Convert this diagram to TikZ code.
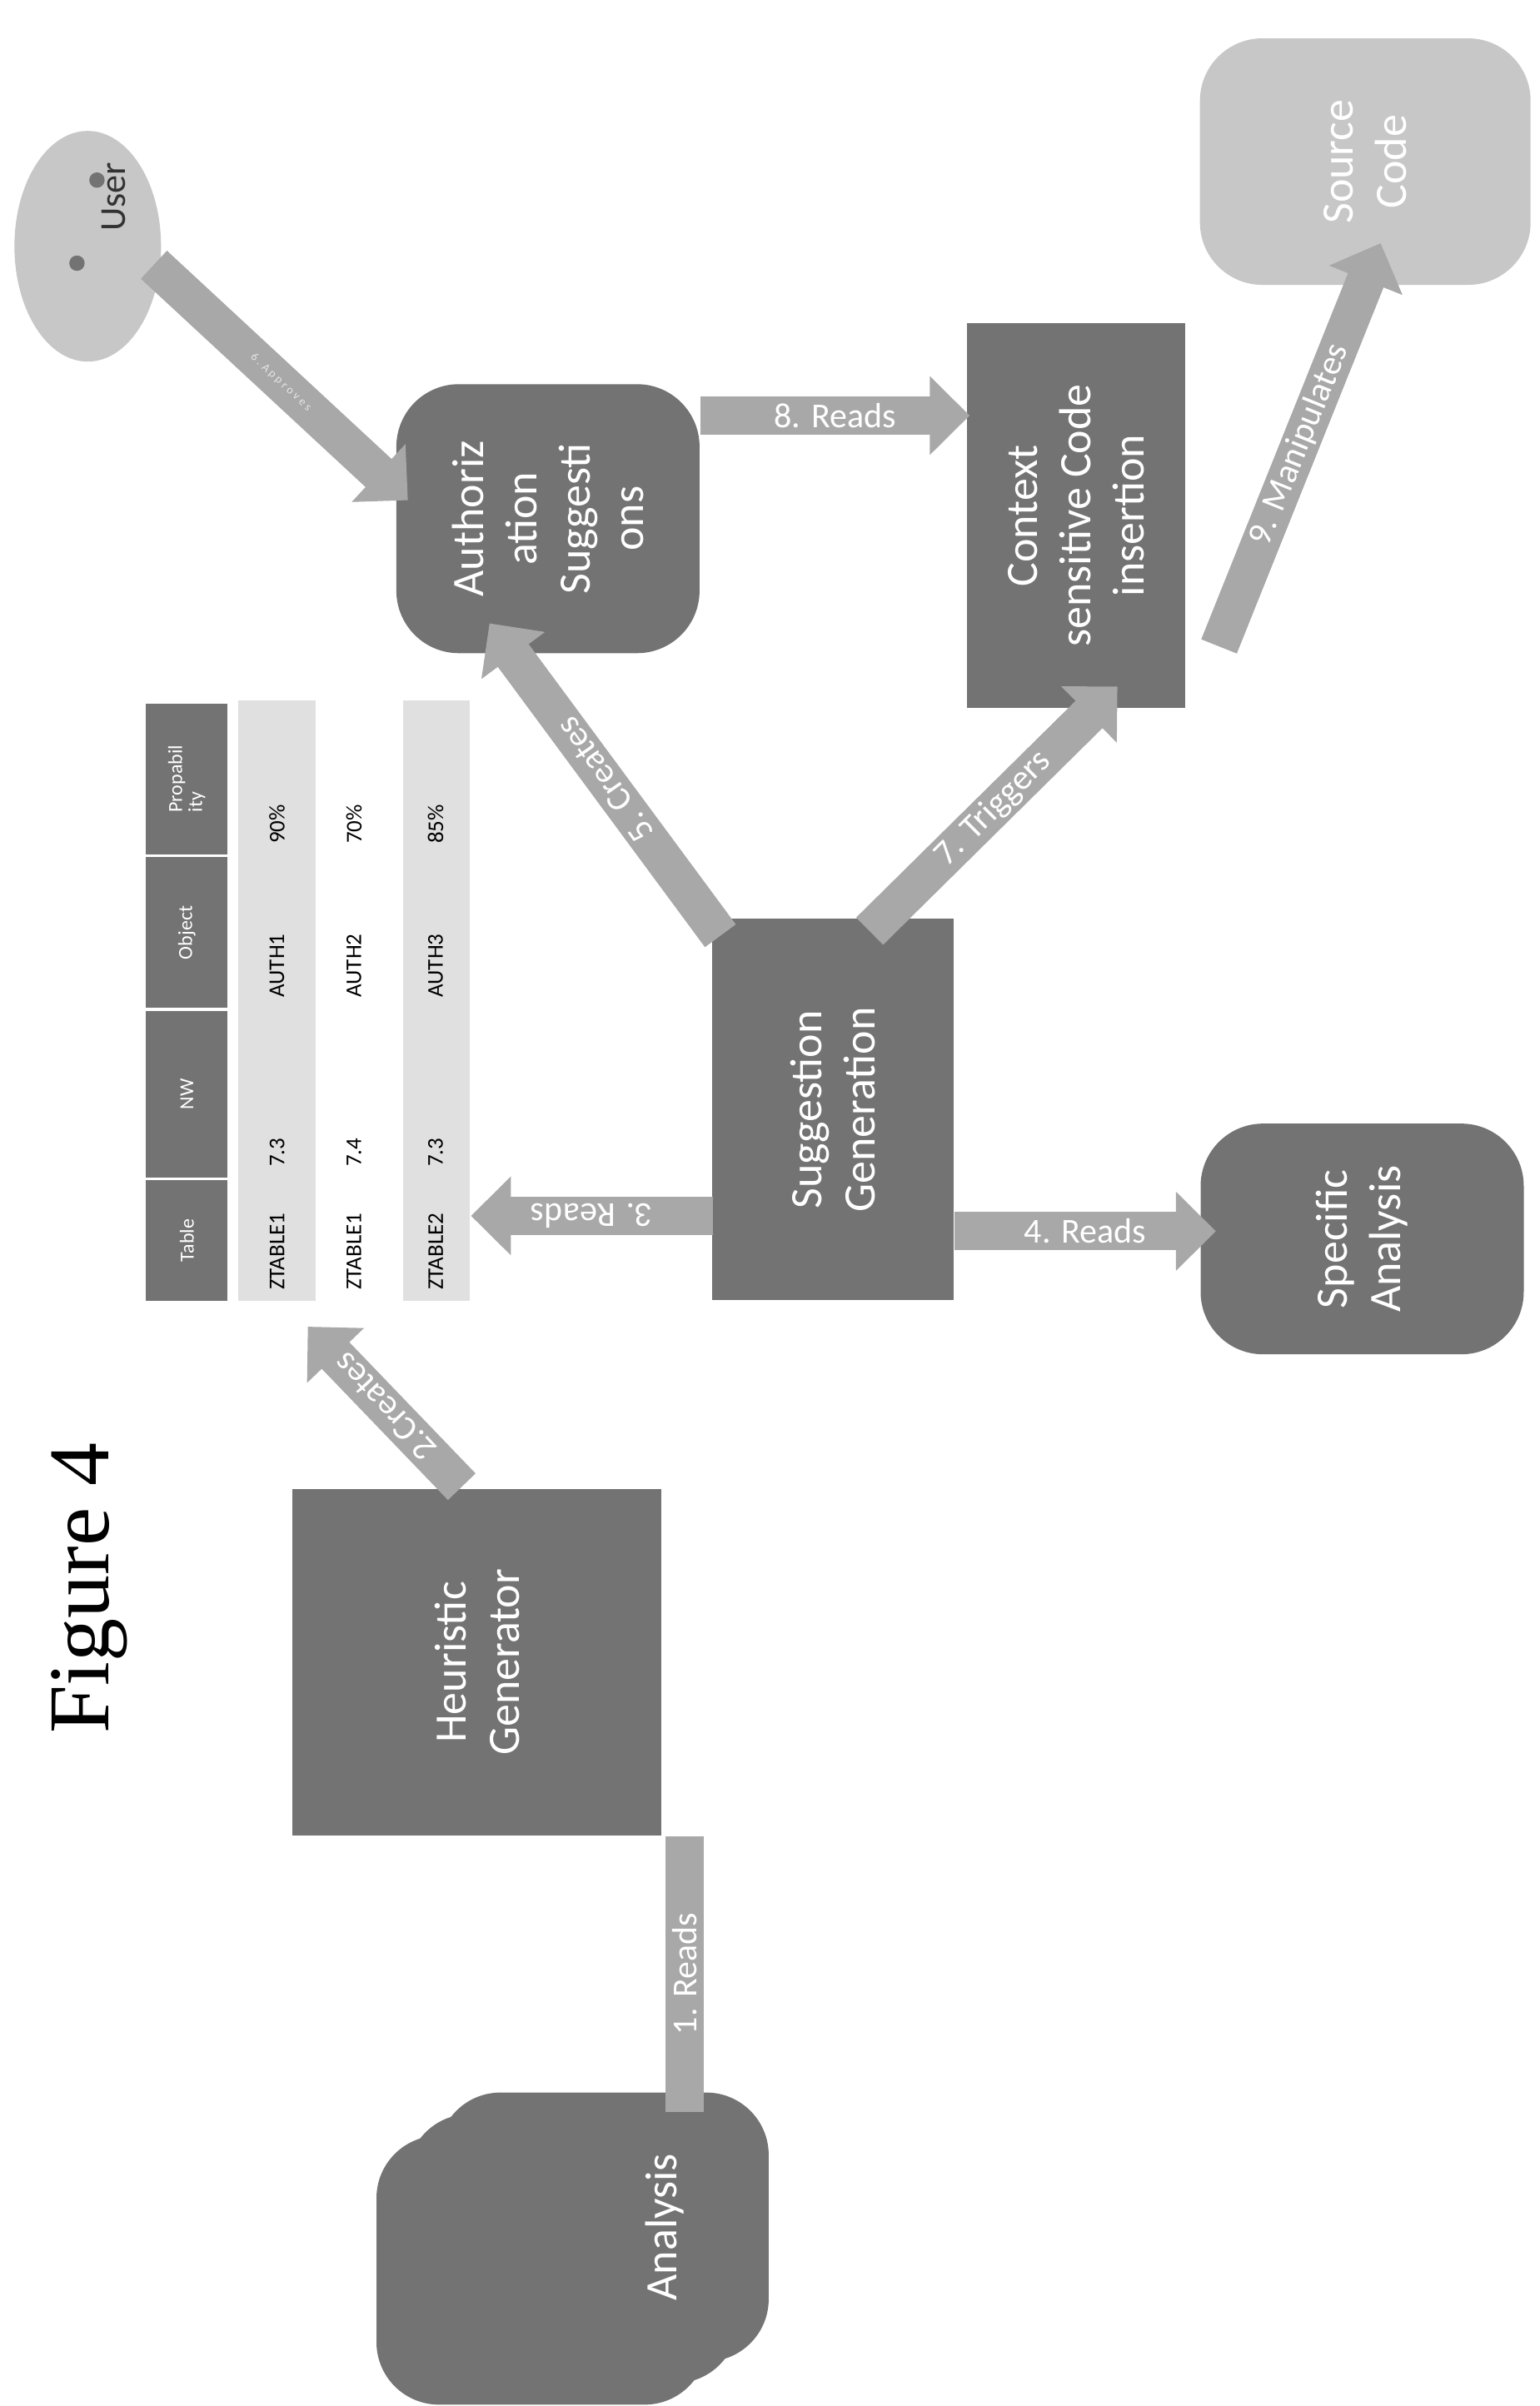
\documentclass[tikz,border=0pt]{standalone}
\usepackage{fontspec}
\setmainfont{Carlito}
\newfontfamily\figfont{Liberation Serif}
\usetikzlibrary{shapes.geometric,arrows.meta}
\definecolor{dk}{gray}{0.45}
\definecolor{lt}{gray}{0.78}
\definecolor{ar}{gray}{0.66}
\definecolor{cell}{gray}{0.88}
\begin{document}
\begin{tikzpicture}[x=1.848pt,y=-1.848pt,
  box/.style={rectangle,fill=dk,text=white,rotate=90,align=center,font=\fontsize{54}{64}\selectfont},
  cyl/.style={rectangle,rounded corners=75pt,fill=dk,text=white,rotate=90,align=center,font=\fontsize{54}{64}\selectfont},
  blk/.style={ar,line width=46pt,-{Triangle[width=92pt,length=48pt]}},
  lab/.style={text=white,font=\fontsize{42}{42}\selectfont},
  hc/.style={rectangle,fill=dk,text=white,anchor=south,rotate=90,font=\fontsize{24}{24}\selectfont,align=left},
  tc/.style={text=black,anchor=west,rotate=90,font=\fontsize{27}{27}\selectfont}]
\useasboundingbox (0,0) rectangle (1000,1563.3);
\node[rotate=90,font=\figfont\fontsize{104}{104}\selectfont] (fig) at (58,1032) {Figure 4};
% user
\node[ellipse,fill=lt,minimum width=176pt,minimum height=277pt] (user) at (57,160) {};
\node[rotate=90,font=\fontsize{44}{44}\selectfont,text=black!80] (usert) at (74,128) {User};
\fill[dk] (50,171) circle (5) (63,117) circle (5);
% analysis stack
\node[cyl,minimum width=323pt,minimum height=397pt] (an3) at (352,1475) {};
\node[cyl,minimum width=323pt,minimum height=397pt] (an2) at (372,1461) {};
\node[cyl,minimum width=323pt,minimum height=397pt] (an) at (392,1447) {};
\node[rotate=90,text=white,font=\fontsize{54}{60}\selectfont] (ant) at (432,1447) {Analysis};
% boxes
\node[box,minimum width=416pt,minimum height=443pt] (hg) at (310,1080) {Heuristic\\Generator};
\node[box,minimum width=458pt,minimum height=290pt] (sg) at (541,721) {Suggestion\\Generation};
\node[box,minimum width=462pt,minimum height=262pt] (csi) at (699,335) {Context\\sensitive Code\\insertion};
\node[cyl,minimum width=323pt,minimum height=364pt] (as) at (356,337) {Authoriz\\ation\\Suggesti\\ons};
\node[cyl,fill=lt,minimum width=296pt,minimum height=397pt] (sc) at (887,105) {Source\\Code};
\node[cyl,minimum width=277pt,minimum height=388pt] (sa) at (885,805) {Specific\\Analysis};
% table
\foreach \a/\b/\t [count=\i] in {845/767/Table,765/657/NW,655/557/Object,555/457/{Propabil\\ity}}{
  \node[hc,minimum width={(\a-\b)*1.848pt},minimum height=98pt] (h\i) at (148,{(\a+\b)/2}) {\t};
}
\fill[cell] (155,845) rectangle (205,455);
\fill[cell] (262,845) rectangle (305,455);
\node[tc] (c11) at (180,840) {ZTABLE1};
\node[tc] (c12) at (180,760) {7.3};
\node[tc] (c13) at (180,650) {AUTH1};
\node[tc] (c14) at (180,550) {90\%};
\node[tc] (c21) at (230,840) {ZTABLE1};
\node[tc] (c22) at (230,760) {7.4};
\node[tc] (c23) at (230,650) {AUTH2};
\node[tc] (c24) at (230,550) {70\%};
\node[tc] (c31) at (283,840) {ZTABLE2};
\node[tc] (c32) at (283,760) {7.3};
\node[tc] (c33) at (283,650) {AUTH3};
\node[tc] (c34) at (283,550) {85\%};
% arrow endpoints
\coordinate (p1a) at (445,1193); \coordinate (p1b) at (445,1372);
\coordinate (p2a) at (300,966); \coordinate (p2b) at (200,862);
\coordinate (p3a) at (463,790); \coordinate (p3b) at (306,790);
\coordinate (p4a) at (620,800); \coordinate (p4b) at (790,800);
\coordinate (p5a) at (468,608); \coordinate (p5b) at (318,405);
\coordinate (p6a) at (100,172); \coordinate (p6b) at (265,325);
\coordinate (p7a) at (565,605); \coordinate (p7b) at (726,446);
\coordinate (p8a) at (455,270); \coordinate (p8b) at (630,270);
\coordinate (p9a) at (792,420); \coordinate (p9b) at (897,158);
\draw[ar,line width=46pt] (p1a) -- (p1b) node[lab,midway,rotate=90] (l1) {1. Reads};
\draw[blk] (p2a) -- (p2b) node[lab,midway,rotate=133] (l2) {2.Creates};
\draw[blk] (p3a) -- (p3b) node[lab,midway,rotate=180] (l3) {3. Reads};
\draw[blk] (p4a) -- (p4b) node[lab,midway] (l4) {4. Reads};
\draw[blk] (p5a) -- (p5b) node[lab,midway,rotate=125] (l5) {5. Creates};
\draw[blk] (p6a) -- (p6b) node[lab,midway,rotate=-43,font=\fontsize{14}{14}\selectfont,text=white!90!black] (l6) {6 . A p p r o v e s};
\draw[blk] (p7a) -- (p7b) node[lab,midway,rotate=45] (l7) {7. Triggers};
\draw[blk] (p8a) -- (p8b) node[lab,midway] (l8) {8. Reads};
\draw[blk] (p9a) -- (p9b) node[lab,midway,rotate=68] (l9) {9. Manipulates};
\end{tikzpicture}
\end{document}
